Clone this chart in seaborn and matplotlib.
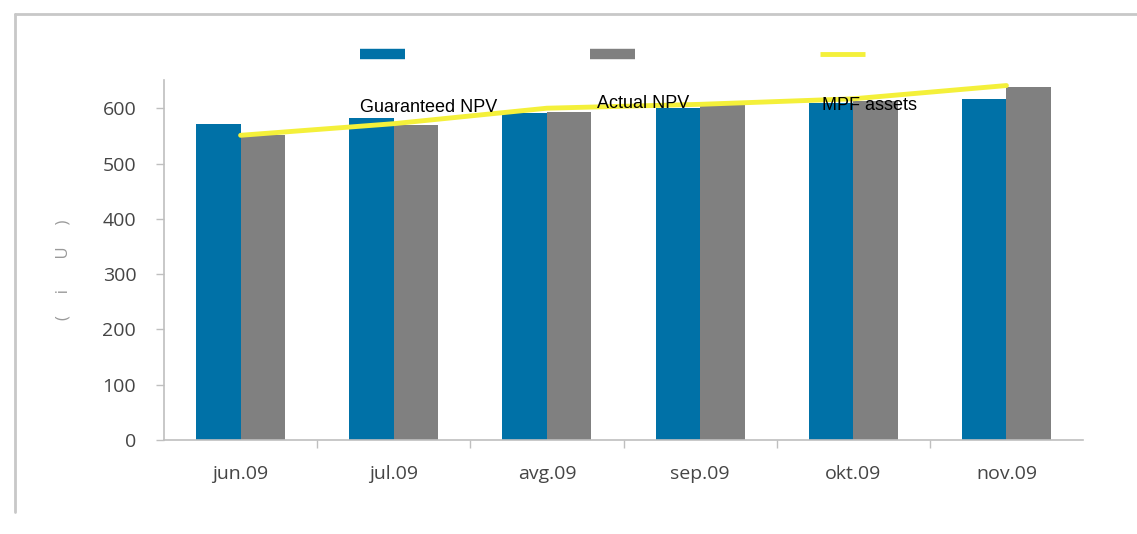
import matplotlib
matplotlib.use("Agg")
import matplotlib.pyplot as plt
from matplotlib.lines import Line2D
import numpy as np
import pandas as pd
import seaborn as sns

# Monthly values (mio.)
months = ["jun.09", "jul.09", "avg.09", "sep.09", "okt.09", "nov.09"]
guaranteed_npv = [571, 582, 591, 600, 609, 616]
actual_npv = [551, 570, 594, 606, 613, 638]
mpf_assets = [551, 572, 600, 607, 617, 641]
series_names = ["Guaranteed NPV", "Actual NPV", "MPF assets"]
y_ticks = [0, 100, 200, 300, 400, 500, 600]

BLUE = "#0071A7"
GRAY = "#808080"
YELLOW = "#F4F03A"
AXIS = "#BFBFBF"
TICKTXT = "#454545"

sns.set_theme(style="white")
plt.rcParams["font.family"] = ["Open Sans", "DejaVu Sans"]

W, H = 1137, 534
fig = plt.figure(figsize=(W / 100, H / 100), dpi=100)
fig.patch.set_facecolor("white")

ax = fig.add_axes([164 / W, 94 / H, (1083 - 164) / W, (440 - 80) / H])

bars = pd.DataFrame({
    "month": months * 2,
    "value": guaranteed_npv + actual_npv,
    "series": [series_names[0]] * len(months) + [series_names[1]] * len(months),
})
sns.barplot(data=bars, x="month", y="value", hue="series", order=months,
            hue_order=series_names[:2], palette=[BLUE, GRAY], width=0.58,
            gap=0, saturation=1, legend=False, errorbar=None,
            linewidth=0, edgecolor="none", ax=ax)

line = pd.DataFrame({"month": months, "value": mpf_assets})
sns.pointplot(data=line, x="month", y="value", order=months, color=YELLOW,
              markers="", linewidth=3.5, errorbar=None, ax=ax)

ax.set_xlim(-0.5, len(months) - 0.5)
ax.set_ylim(0, 651)
ax.set_yticks(y_ticks)
ax.set_xlabel("")
ax.set_ylabel("")

for side in ("top", "right"):
    ax.spines[side].set_visible(False)
for side in ("left", "bottom"):
    ax.spines[side].set_color(AXIS)
    ax.spines[side].set_linewidth(1.2)

ax.set_xticks(np.arange(len(months)))
ax.set_xticklabels(months)
ax.set_xticks(np.arange(len(months) - 1) + 0.5, minor=True)
ax.tick_params(axis="x", which="major", length=0, pad=18, labelsize=14,
               labelcolor=TICKTXT)
ax.tick_params(axis="x", which="minor", length=6, width=1, color=AXIS,
               direction="out", bottom=True)
ax.tick_params(axis="y", which="major", length=6, width=1, color=AXIS,
               direction="out", left=True, pad=14, labelsize=14,
               labelcolor=TICKTXT)

# Axis unit caption (partially rendered)
fig.text(63 / W, 1 - 270 / H, "(     i       U     )", rotation=90,
         ha="center", va="center", fontsize=12, color="#999999")

# Legend keys across the top
handles = [Line2D([], [], color=BLUE, lw=7.5, solid_capstyle="butt"),
           Line2D([], [], color=GRAY, lw=7.5, solid_capstyle="butt"),
           Line2D([], [], color=YELLOW, lw=3.5, solid_capstyle="butt")]
fig.legend(handles, ["", "", ""], ncol=3, loc="center left",
           bbox_to_anchor=(360 / W, 1 - 56 / H), frameon=False,
           handlelength=2.95, handletextpad=0.8, columnspacing=11.3,
           fontsize=11, borderpad=0, borderaxespad=0)

# Series names
name_pos = [(360, 108), (597, 104), (822, 105)]
for name, (px, py) in zip(series_names, name_pos):
    fig.text(px / W, 1 - py / H, name, ha="left", va="center", fontsize=13,
             family=["Liberation Sans", "DejaVu Sans"], color="black",
             zorder=5)

# Outer frame (left and top edges)
fig.add_artist(Line2D([15 / W, 15 / W], [1 - 512 / H, 1 - 14 / H],
                      transform=fig.transFigure, color="#C8C8C8", lw=2))
fig.add_artist(Line2D([15 / W, 1.0], [1 - 14 / H, 1 - 14 / H],
                      transform=fig.transFigure, color="#C8C8C8", lw=2))

fig.savefig("out.png", dpi=100, facecolor="white")
